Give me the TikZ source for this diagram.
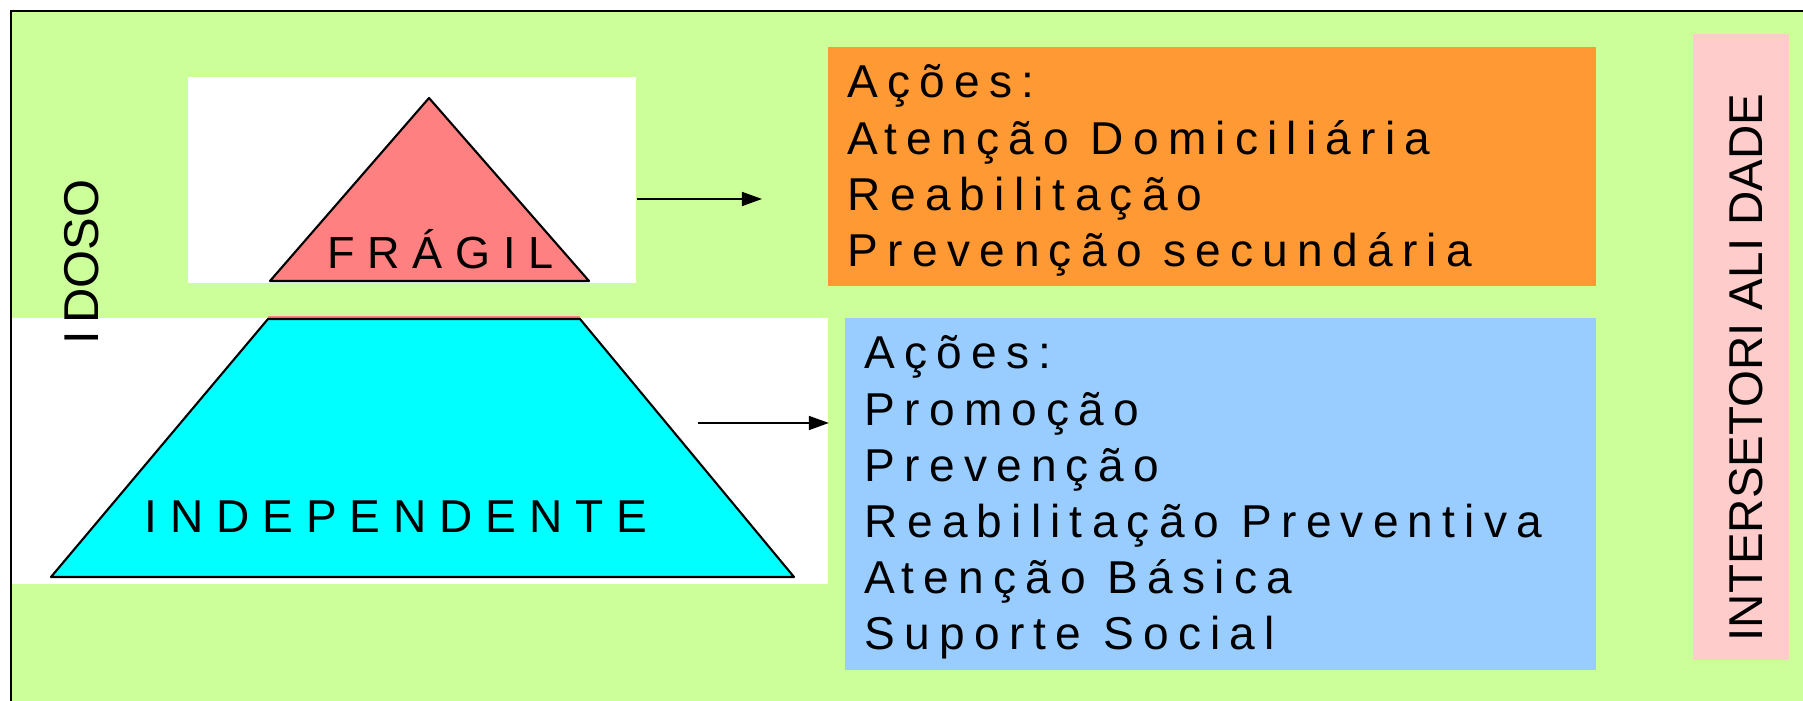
\documentclass[tikz,border=0pt]{standalone}
\usepackage{fontspec}
\setmainfont{Liberation Sans}
\newfontfamily\acaofont[LetterSpace=20]{Liberation Sans}
\newfontfamily\nivelfont[LetterSpace=28]{Liberation Sans}
\usetikzlibrary{arrows.meta,positioning}
\definecolor{fundo}{HTML}{CCFF99}
\definecolor{laranja}{HTML}{FF9933}
\definecolor{azul}{HTML}{99CCFF}
\definecolor{rosa}{HTML}{FFCCCC}
\definecolor{salmao}{HTML}{FF8080}
\definecolor{ciano}{HTML}{00FFFF}
\newcommand{\Igap}[1]{\kern#1cm}

\begin{document}
\begin{tikzpicture}[x=0.01cm,y=-0.01cm,
   caixa/.style={fill=#1,draw=none,inner sep=0pt,anchor=north west},
   caixa/.default=white,
   acao/.style={font=\acaofont\fontsize{13.1}{16}\selectfont,inner sep=0pt,anchor=base west},
   nivel/.style={font=\nivelfont\fontsize{#1}{16}\selectfont,inner sep=0pt,anchor=base west},
   vertical/.style={font=\fontsize{#1}{16}\selectfont,rotate=90,inner sep=0pt,anchor=base west},
   seta/.style={-{Triangle[length=0.2cm,width=0.14cm]},line width=0.45pt}]
 \useasboundingbox (0,0) rectangle (1803,701);
 \fill[fundo] (11,11) rectangle (1803,701);
 \node[caixa,minimum width=4.48cm,minimum height=2.06cm] (wfragil) at (187,76) {};
 \node[caixa,minimum width=8.16cm,minimum height=2.66cm] (windep) at (11,317) {};
 \node[caixa=laranja,minimum width=7.68cm,minimum height=2.39cm] (cxfragil) at (827,46) {};
 \node[caixa=azul,minimum width=7.51cm,minimum height=3.52cm] (cxindep) at (844,317) {};
 \node[caixa=rosa,minimum width=0.96cm,minimum height=6.26cm] (cxinter) at (1692,33) {};
 \filldraw[fill=salmao,draw=black,line width=0.6pt,line join=round]
   (429,98) -- (589,281) -- (270,281) -- cycle;
 \draw[salmao,line width=0.6pt] (268,317) -- (580,317);
 \filldraw[fill=ciano,draw=black,line width=0.6pt,line join=round]
   (268,319) -- (580,319) -- (794,577) -- (51,577) -- cycle;
 \draw[line width=0.6pt] (11,701) -- (11,11) -- (1803,11);
 \node[nivel=12.8] (fragil) at (327,269) {FRÁGIL};
 \node[nivel=13.1] (indep) at (144,533) {INDEPENDENTE};
 \node[vertical=13.9] (idoso) at (98,345) {I\Igap{0.07}DOSO};
 \node[vertical=13.5] (inter) at (1762,642) {INTERSETORI\Igap{0.13}ALI\Igap{0.13}DADE};
 \foreach \txt [count=\i] in {Ações:,A\Igap{0.06}tenção Domiciliária,Reabilitação,Prevenção secundária}
   \node[acao] (fr-\i) at (847,{98+56.2*(\i-1)}) {\txt};
 \foreach \txt [count=\i] in {Ações:,Promoção,Prevenção,Reabilitação Preventiva,A\Igap{0.06}tenção Básica,Suporte Social}
   \node[acao] (in-\i) at (864,{369+56.2*(\i-1)}) {\txt};
 \coordinate (pontaF) at (762,199);
 \draw[seta] (wfragil.east|-pontaF) -- (pontaF);
 \coordinate (inicioI) at (698,423);
 \draw[seta] (inicioI) -- (windep.east|-inicioI);
\end{tikzpicture}
\end{document}
